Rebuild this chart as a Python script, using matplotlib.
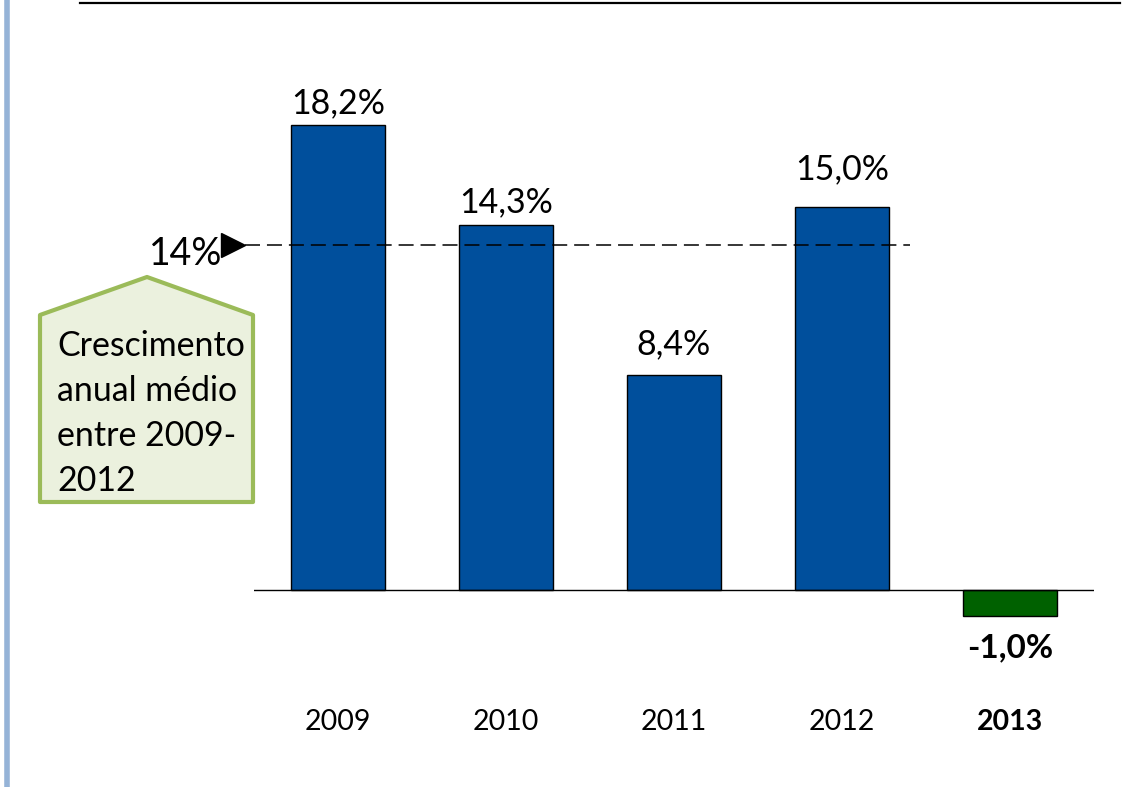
import matplotlib
matplotlib.use("Agg")
import matplotlib.pyplot as plt
from matplotlib.patches import Polygon
from matplotlib.lines import Line2D

years = ["2009", "2010", "2011", "2012", "2013"]
growth = [18.2, 14.3, 8.4, 15.0, -1.0]
value_labels = ["18,2%", "14,3%", "8,4%", "15,0%", "-1,0%"]
avg_value = 13.5
avg_label = "14%"
callout_text = "Crescimento\nanual médio\nentre 2009-\n2012"

blue = "#004F9C"
green = "#006100"
bar_colors = [blue, blue, blue, blue, green]
label_offsets_px = [22, 22, 31, 37, -32]

FONT = "Lato"
plt.rcParams["font.family"] = [FONT, "DejaVu Sans"]
plt.rcParams["lines.scale_dashes"] = False

W, H = 1126, 787
fig = plt.figure(figsize=(W / 100, H / 100), dpi=100)
fig.patch.set_facecolor("white")

def fx(px):
    return px / W

def fy(py):
    return 1 - py / H

ax = fig.add_axes([fx(254), fy(680), (1094 - 254) / W, (680 - 60) / H])
ax.set_xlim(-0.5, 4.5)
ax.set_ylim(-3.52, 20.74)
for s in ax.spines.values():
    s.set_visible(False)
ax.set_yticks([])

x = list(range(len(years)))
ax.bar(x, growth, width=0.56, color=bar_colors, edgecolor="black", linewidth=1.0, zorder=2)
ax.axhline(0, color="black", linewidth=1.0, zorder=3)

ax.set_xticks(x)
ax.set_xticklabels(years, fontsize=20.5)
ax.tick_params(axis="x", length=0, pad=21)
ax.get_xticklabels()[-1].set_fontweight("bold")

for i, (v, lab, off) in enumerate(zip(growth, value_labels, label_offsets_px)):
    ax.annotate(lab, (i, v), xytext=(0, off * 0.72), textcoords="offset points",
                ha="center", va="center", fontsize=24.5 if i < 4 else 24,
                fontweight="bold" if v < 0 else "normal", zorder=4)

# average dashed line
ax.plot([-0.554, 3.405], [avg_value, avg_value], color="black", linewidth=1.1,
        dashes=(10.8, 5.0), clip_on=False, zorder=4)
ax.plot([-0.625], [avg_value], marker=">", markersize=17, color="black",
        clip_on=False, zorder=5)
ax.annotate(avg_label, (-0.69, avg_value), xytext=(0, -9 * 0.72), textcoords="offset points",
            ha="right", va="center", fontsize=27, annotation_clip=False, zorder=5)

# callout shape
pts = [(40, 502), (40, 315), (147, 277), (253, 315), (253, 502)]
poly = Polygon([(fx(a), fy(b)) for a, b in pts], closed=True, transform=fig.transFigure,
               facecolor="#EBF1DE", edgecolor="#9BBB59", linewidth=3.0, joinstyle="round")
fig.add_artist(poly)
fig.text(fx(57), fy(330), callout_text, ha="left", va="top", fontsize=24.4,
         linespacing=1.5)

# decorative lines
fig.add_artist(Line2D([fx(80), fx(1120)], [fy(3), fy(3)], transform=fig.transFigure,
                      color="black", linewidth=1.6))
fig.add_artist(Line2D([fx(7.5), fx(7.5)], [0, 1], transform=fig.transFigure,
                      color="#95B3D7", linewidth=4.0))

fig.savefig("out.png", dpi=100)
